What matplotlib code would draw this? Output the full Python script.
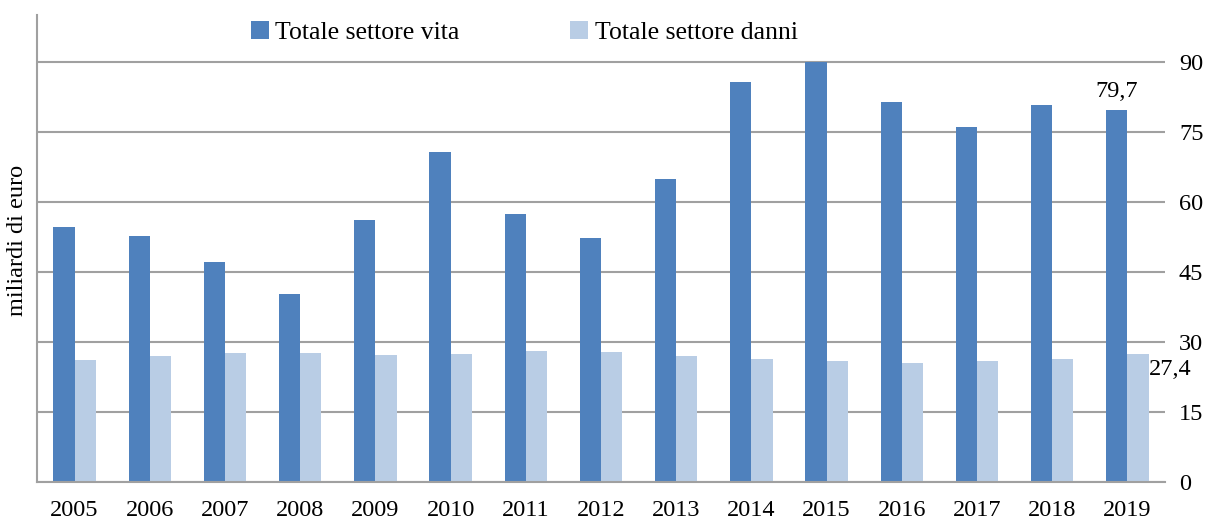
import matplotlib.pyplot as plt
import numpy as np

years = ["2005", "2006", "2007", "2008", "2009", "2010", "2011", "2012",
         "2013", "2014", "2015", "2016", "2017", "2018", "2019"]
vita = [54.6, 52.7, 47.1, 40.3, 56.1, 70.7, 57.4, 52.3, 64.9, 85.7, 90.0, 81.4, 76.1, 80.8, 79.7]
danni = [26.1, 27.0, 27.6, 27.6, 27.2, 27.4, 28.1, 27.9, 27.0, 26.4, 25.9, 25.5, 25.9, 26.4, 27.4]
series_names = ["Totale settore vita", "Totale settore danni"]
yticks = [0, 15, 30, 45, 60, 75, 90]

plt.rcParams['font.family'] = ['Liberation Serif', 'DejaVu Serif']
FS = 17.5

fig = plt.figure(figsize=(12.15, 5.22), dpi=100)
ax = fig.add_axes([37/1215, 1 - 482/522, (1165-37)/1215, (482-15)/522])

x = np.arange(len(years))
w = 0.283
c1, c2 = "#4F81BD", "#B9CDE5"
ax.bar(x - w/2, vita, w, color=c1, label=series_names[0], zorder=3)
ax.bar(x + w/2, danni, w, color=c2, label=series_names[1], zorder=3)

ax.set_xlim(-0.5, len(years) - 0.5)
ax.set_ylim(0, 100.1)
ax.set_xticks(x)
ax.set_xticklabels(years, fontsize=FS)
ax.tick_params(axis='x', length=0, pad=13)
ax.yaxis.tick_right()
ax.set_yticks(yticks)
ax.set_yticklabels([str(t) for t in yticks], fontsize=FS)
ax.tick_params(axis='y', length=0, pad=10)
ax.grid(axis='y', color='#A0A0A0', linewidth=1.5, zorder=0)
for s in ['top', 'right']:
    ax.spines[s].set_visible(False)
for s in ['left', 'bottom']:
    ax.spines[s].set_color('#A0A0A0')
    ax.spines[s].set_linewidth(1.5)
    ax.spines[s].set_zorder(4)

fig.text(18/1215, 1 - 240/522, "miliardi di euro", rotation=90, ha='center', va='center', fontsize=FS)

ax.text(x[-1] - w/2, vita[-1] + 1.8, "79,7", ha='center', va='bottom', fontsize=FS)
ax.text(x[-1] + w + 0.005, danni[-1] - 3.3, "27,4", ha='left', va='center', fontsize=FS)

ax.legend(loc='center', bbox_to_anchor=(0.432, 0.962), ncol=2, frameon=False,
          fontsize=18.5, handlelength=0.7, handleheight=0.7, handletextpad=0.25,
          columnspacing=4.3)

fig.savefig("out.png", dpi=100)
